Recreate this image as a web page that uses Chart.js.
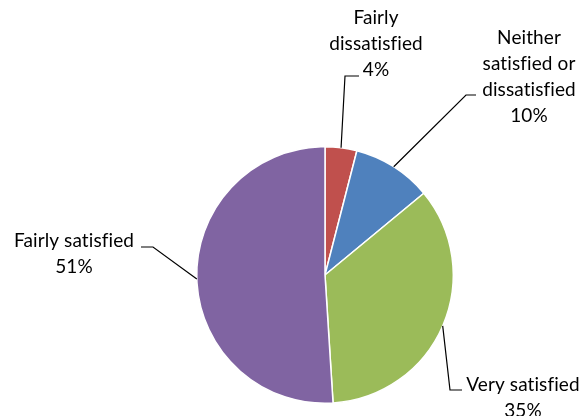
<!DOCTYPE html>
<html>
<head>
<meta charset="utf-8">
<script src="https://cdn.jsdelivr.net/npm/chart.js@4"></script>
<style>
  html, body { margin: 0; padding: 0; background: #fff; }
  #wrap { width: 585px; height: 416px; position: relative; }
</style>
</head>
<body>
<div id="wrap"><canvas id="c" width="585" height="416"></canvas></div>
<script>
const categories = ["Fairly dissatisfied", "Neither satisfied or dissatisfied", "Very satisfied", "Fairly satisfied"];
const values = [4, 10, 35, 51];
const labelLines = [
  ["Fairly", "dissatisfied"],
  ["Neither", "satisfied or", "dissatisfied"],
  ["Very satisfied"],
  ["Fairly satisfied"]
];
const colors = ["#C0504D", "#4F81BD", "#9BBB59", "#8064A2"];

// label layout (text centre x, first line centre y, elbow point, end point)
const labelLayout = [
  { tx: 376, ty: 18, ex: 345, ey: 76, hx: 359 },
  { tx: 529, ty: 38, ex: 466, ey: 95, hx: 476 },
  { tx: 523, ty: 385, ex: 450, ey: 390, hx: 462 },
  { tx: 74,  ty: 241, ex: 153, ey: 247, hx: 141 }
];

const FONT = "Lato, 'Open Sans', sans-serif";
const LINE_H = 26;

const labelPlugin = {
  id: 'pieLabels',
  afterDatasetsDraw(chart) {
    const ctx = chart.ctx;
    const meta = chart.getDatasetMeta(0);
    const total = values.reduce((a, b) => a + b, 0);
    ctx.save();
    meta.data.forEach((arc, i) => {
      const p = arc.getProps(['x', 'y', 'startAngle', 'endAngle', 'outerRadius'], true);
      const mid = (p.startAngle + p.endAngle) / 2;
      const ax = p.x + Math.cos(mid) * p.outerRadius;
      const ay = p.y + Math.sin(mid) * p.outerRadius;
      const L = labelLayout[i];
      ctx.strokeStyle = '#000';
      ctx.lineWidth = 1.2;
      ctx.beginPath();
      ctx.moveTo(ax, ay);
      ctx.lineTo(L.ex, L.ey);
      ctx.lineTo(L.hx, L.ey);
      ctx.stroke();
      const pct = Math.round(values[i] / total * 100) + '%';
      const lines = labelLines[i].concat([pct]);
      ctx.fillStyle = '#000';
      ctx.font = '19px ' + FONT;
      if ('letterSpacing' in ctx) ctx.letterSpacing = '0.1px';
      ctx.textAlign = 'center';
      ctx.textBaseline = 'middle';
      lines.forEach((t, j) => ctx.fillText(t, L.tx, L.ty + j * LINE_H));
    });
    ctx.restore();
  }
};

new Chart(document.getElementById('c'), {
  type: 'pie',
  data: {
    labels: categories,
    datasets: [{
      data: values,
      backgroundColor: colors,
      borderColor: '#ffffff',
      borderWidth: 1.5
    }]
  },
  options: {
    responsive: false,
    animation: false,
    layout: { padding: { top: 146, bottom: 12, left: 150, right: 85 } },
    plugins: { legend: { display: false }, tooltip: { enabled: false } }
  },
  plugins: [labelPlugin]
});
</script>
</body>
</html>
